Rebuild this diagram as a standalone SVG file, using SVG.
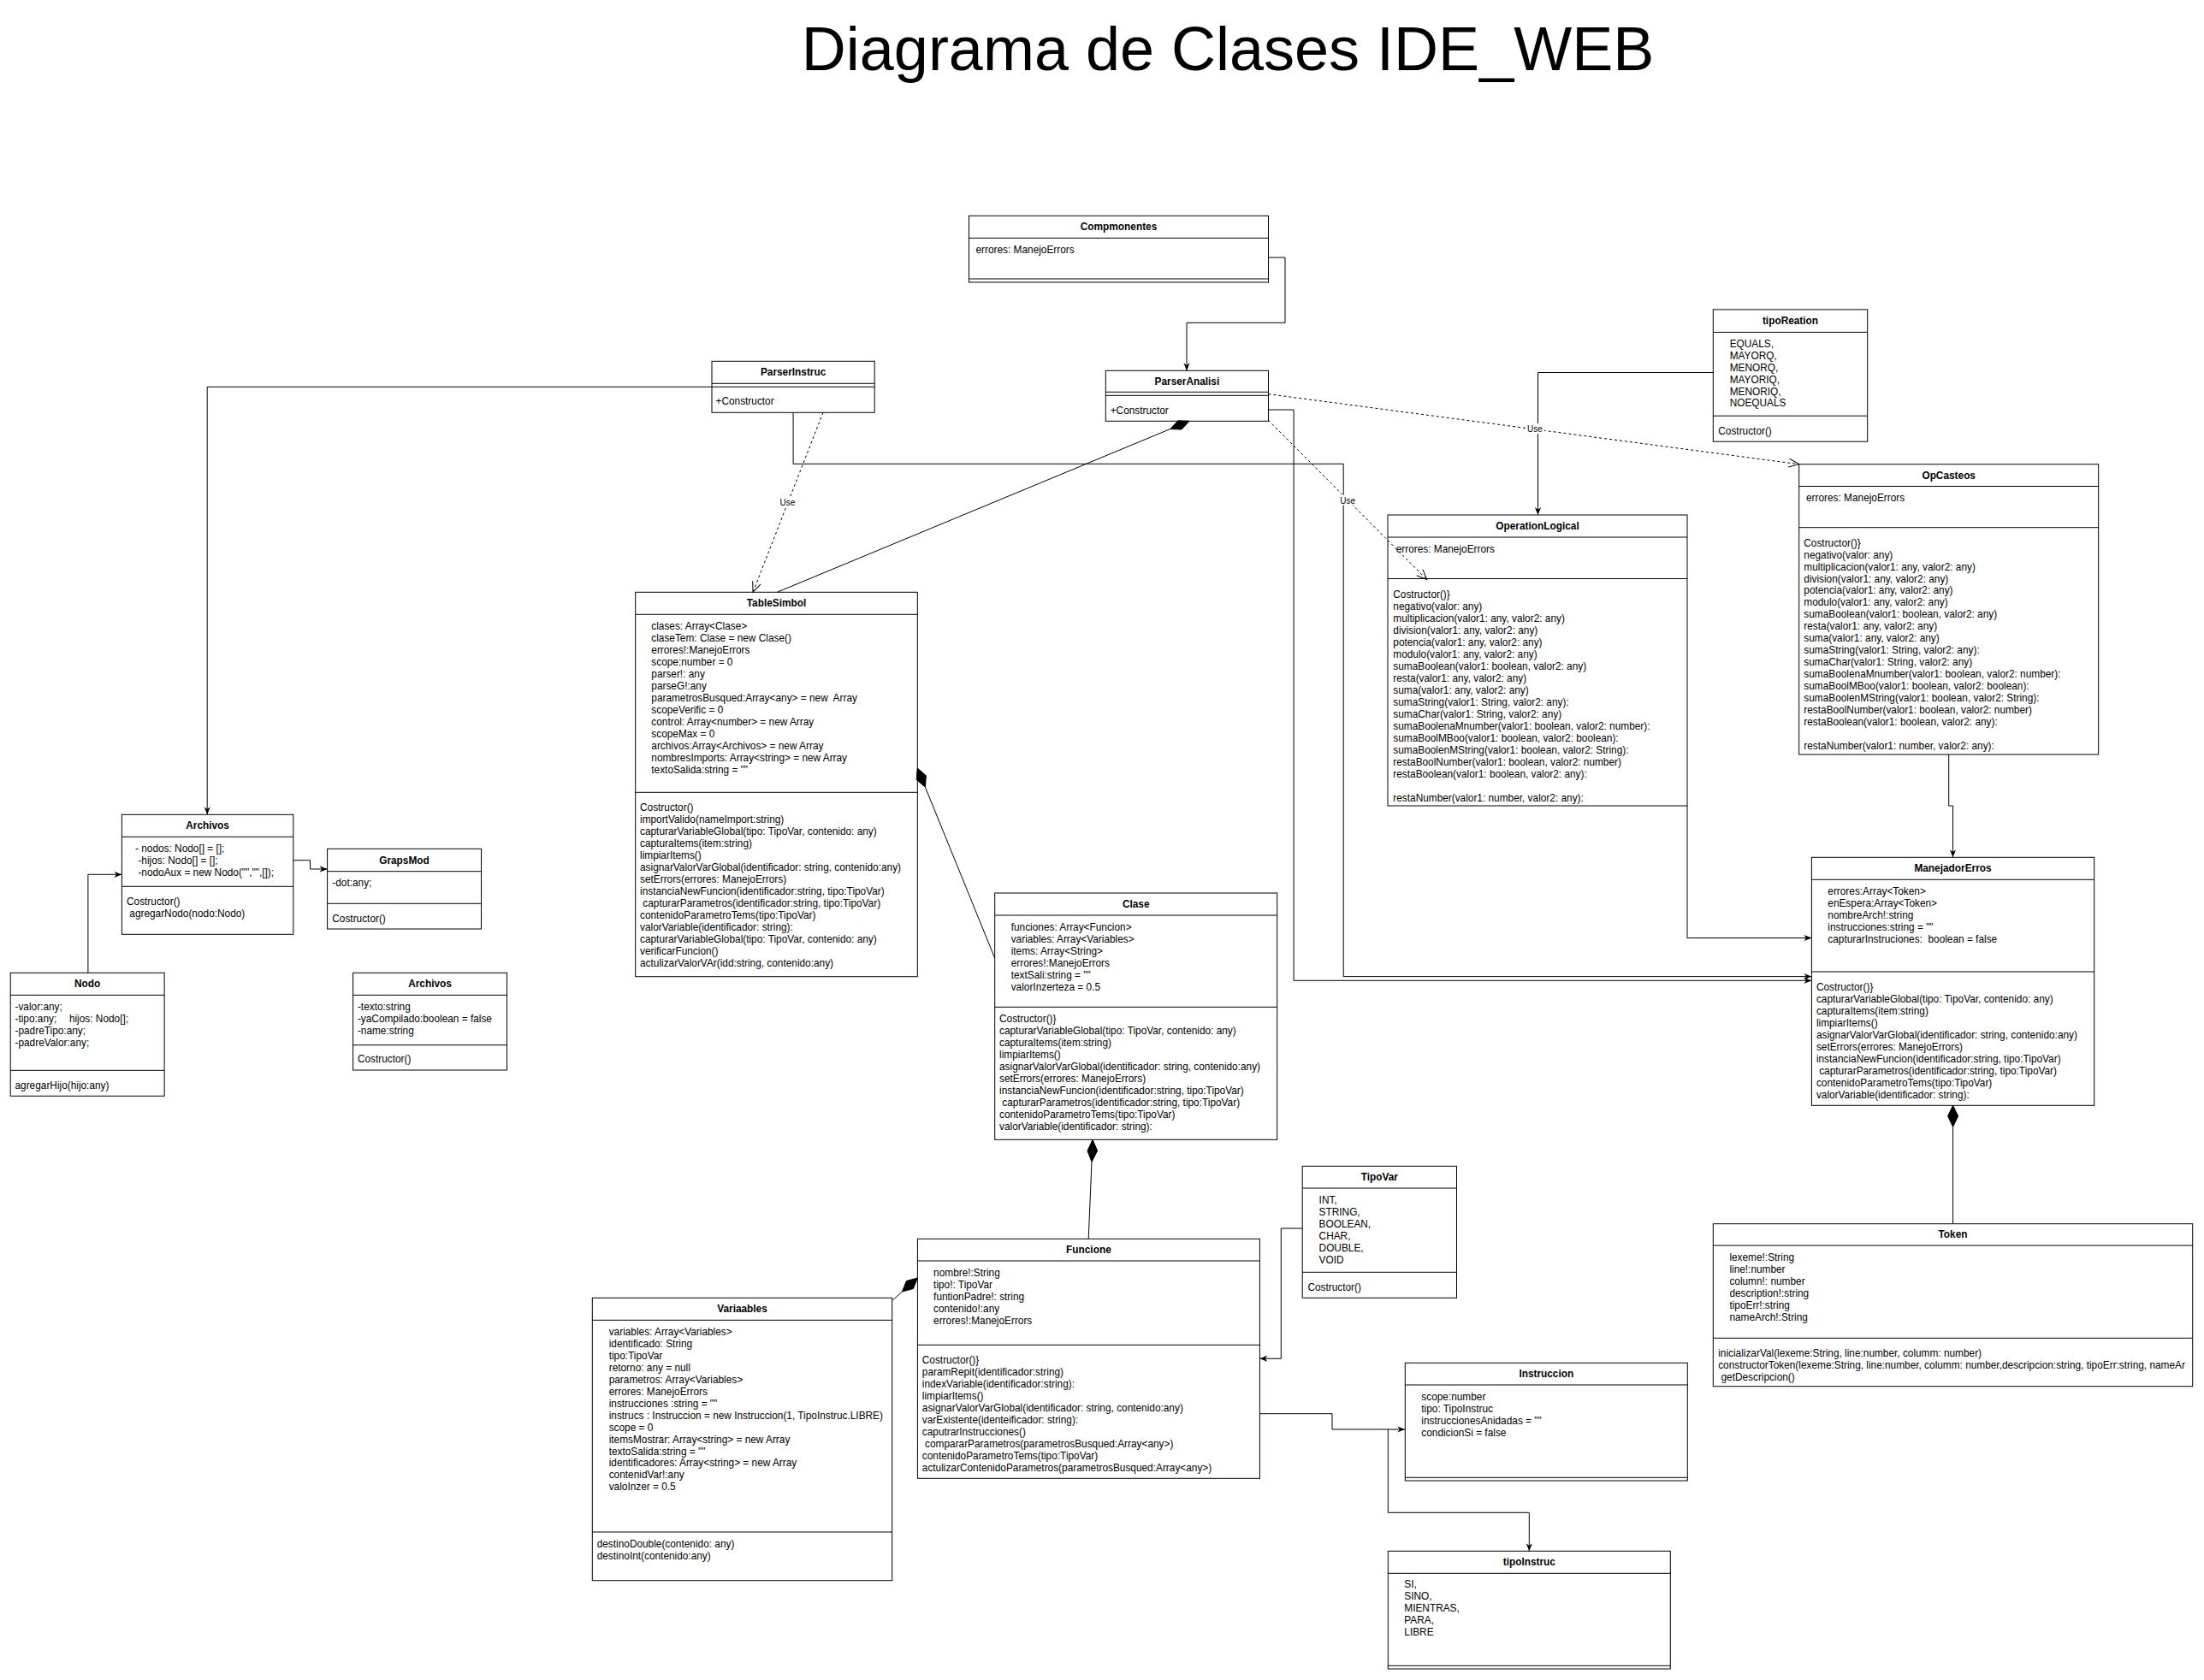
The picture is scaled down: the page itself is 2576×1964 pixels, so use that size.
<svg xmlns="http://www.w3.org/2000/svg" width="2576" height="1964" viewBox="0 0 2576 1964">
<style>
.box{fill:#fff;stroke:#000;stroke-width:1}
.sep{stroke:#000;stroke-width:1;fill:none}
.t{font-family:"Liberation Sans",Arial,Helvetica,sans-serif;font-size:11.85px;fill:#000;white-space:pre}
.h{font-weight:bold;text-anchor:middle}
.c{fill:none;stroke:#000;stroke-width:1}
.d{stroke-dasharray:3 3}
.lbl{font-family:"Liberation Sans",Arial,sans-serif;font-size:10px;fill:#000;text-anchor:middle}
.dia{fill:#000;stroke:#000;stroke-width:1}
.title{font-family:"Liberation Sans",Arial,Helvetica,sans-serif;font-size:72px;fill:#000;text-anchor:middle}
</style>
<defs>
<marker id="a" viewBox="0 0 10 10" refX="10" refY="5" markerWidth="9" markerHeight="9" orient="auto" markerUnits="userSpaceOnUse"><path d="M0,1 L10,5 L0,9 L3,5 z" fill="#000"/></marker>
<marker id="o" viewBox="0 0 14 12" refX="13" refY="6" markerWidth="14" markerHeight="12" orient="auto" markerUnits="userSpaceOnUse"><path d="M1,1 L13,6 L1,11" fill="none" stroke="#000"/></marker>
<clipPath id="tokclip"><rect x="2002.3" y="1430.7" width="560.4" height="190"/></clipPath>
</defs>
<rect width="2576" height="1964" fill="#fff"/>
<text class="title" x="1435" y="82">Diagrama de Clases IDE_WEB</text>

<g id="Compmonentes">
<rect class="box" x="1132.5" y="252.3" width="350" height="77.7"/>
<path class="sep" d="M1132.5,278.3 H1482.5 M1132.5,326 H1482.5"/>
<text class="t h" x="1307.5" y="269.3">Compmonentes</text>
<text class="t" x="1140.5" y="295.7">errores: ManejoErrors</text>
</g>

<g id="ParserInstruc">
<rect class="box" x="832" y="422.3" width="190.2" height="60"/>
<path class="sep" d="M832,448.3 H1022.2 M832,452.3 H1022.2"/>
<text class="t h" x="927.1" y="439.3">ParserInstruc</text>
<text class="t" x="836.5" y="473">+Constructor</text>
</g>

<g id="ParserAnalisi">
<rect class="box" x="1292.3" y="433.3" width="190.2" height="59"/>
<path class="sep" d="M1292.3,458.3 H1482.5 M1292.3,462.3 H1482.5"/>
<text class="t h" x="1387.4" y="450">ParserAnalisi</text>
<text class="t" x="1297.7" y="484">+Constructor</text>
</g>

<g id="tipoReation">
<rect class="box" x="2002.3" y="361.9" width="180.4" height="154.3"/>
<path class="sep" d="M2002.3,388.4 H2182.7 M2002.3,486.2 H2182.7"/>
<text class="t h" x="2092.5" y="379">tipoReation</text>
<text class="t"><tspan x="2021.7" y="406.2">EQUALS,</tspan><tspan x="2021.7" dy="13.85">MAYORQ,</tspan><tspan x="2021.7" dy="13.85">MENORQ,</tspan><tspan x="2021.7" dy="13.85">MAYORIQ,</tspan><tspan x="2021.7" dy="13.85">MENORIQ,</tspan><tspan x="2021.7" dy="13.85">NOEQUALS</tspan></text>
<text class="t" x="2008.3" y="507.8">Costructor()</text>
</g>

<g id="OpCasteos">
<rect class="box" x="2102.7" y="542.7" width="350" height="339.3"/>
<path class="sep" d="M2102.7,568.5 H2452.7 M2102.7,616.7 H2452.7"/>
<text class="t h" x="2277.7" y="559.6">OpCasteos</text>
<text class="t" x="2111" y="585.6">errores: ManejoErrors</text>
<text class="t"><tspan x="2108.3" y="638.7">Costructor()}</tspan><tspan x="2108.3" dy="13.94">negativo(valor: any)</tspan><tspan x="2108.3" dy="13.94">multiplicacion(valor1: any, valor2: any)</tspan><tspan x="2108.3" dy="13.94">division(valor1: any, valor2: any)</tspan><tspan x="2108.3" dy="13.94">potencia(valor1: any, valor2: any)</tspan><tspan x="2108.3" dy="13.94">modulo(valor1: any, valor2: any)</tspan><tspan x="2108.3" dy="13.94">sumaBoolean(valor1: boolean, valor2: any)</tspan><tspan x="2108.3" dy="13.94">resta(valor1: any, valor2: any)</tspan><tspan x="2108.3" dy="13.94">suma(valor1: any, valor2: any)</tspan><tspan x="2108.3" dy="13.94">sumaString(valor1: String, valor2: any):</tspan><tspan x="2108.3" dy="13.94">sumaChar(valor1: String, valor2: any)</tspan><tspan x="2108.3" dy="13.94">sumaBoolenaMnumber(valor1: boolean, valor2: number):</tspan><tspan x="2108.3" dy="13.94">sumaBoolMBoo(valor1: boolean, valor2: boolean):</tspan><tspan x="2108.3" dy="13.94">sumaBoolenMString(valor1: boolean, valor2: String):</tspan><tspan x="2108.3" dy="13.94">restaBoolNumber(valor1: boolean, valor2: number)</tspan><tspan x="2108.3" dy="13.94">restaBoolean(valor1: boolean, valor2: any):</tspan><tspan x="2108.3" dy="27.88">restaNumber(valor1: number, valor2: any):</tspan></text>
</g>

<g id="OperationLogical">
<rect class="box" x="1622" y="602" width="350" height="340"/>
<path class="sep" d="M1622,628 H1972 M1622,676.5 H1972"/>
<text class="t h" x="1797" y="619">OperationLogical</text>
<text class="t" x="1631.7" y="646">errores: ManejoErrors</text>
<text class="t"><tspan x="1628.3" y="699">Costructor()}</tspan><tspan x="1628.3" dy="14">negativo(valor: any)</tspan><tspan x="1628.3" dy="14">multiplicacion(valor1: any, valor2: any)</tspan><tspan x="1628.3" dy="14">division(valor1: any, valor2: any)</tspan><tspan x="1628.3" dy="14">potencia(valor1: any, valor2: any)</tspan><tspan x="1628.3" dy="14">modulo(valor1: any, valor2: any)</tspan><tspan x="1628.3" dy="14">sumaBoolean(valor1: boolean, valor2: any)</tspan><tspan x="1628.3" dy="14">resta(valor1: any, valor2: any)</tspan><tspan x="1628.3" dy="14">suma(valor1: any, valor2: any)</tspan><tspan x="1628.3" dy="14">sumaString(valor1: String, valor2: any):</tspan><tspan x="1628.3" dy="14">sumaChar(valor1: String, valor2: any)</tspan><tspan x="1628.3" dy="14">sumaBoolenaMnumber(valor1: boolean, valor2: number):</tspan><tspan x="1628.3" dy="14">sumaBoolMBoo(valor1: boolean, valor2: boolean):</tspan><tspan x="1628.3" dy="14">sumaBoolenMString(valor1: boolean, valor2: String):</tspan><tspan x="1628.3" dy="14">restaBoolNumber(valor1: boolean, valor2: number)</tspan><tspan x="1628.3" dy="14">restaBoolean(valor1: boolean, valor2: any):</tspan><tspan x="1628.3" dy="28">restaNumber(valor1: number, valor2: any):</tspan></text>
</g>

<g id="TableSimbol">
<rect class="box" x="742.7" y="692.3" width="329.6" height="449.4"/>
<path class="sep" d="M742.7,718.3 H1072.3 M742.7,926.3 H1072.3"/>
<text class="t h" x="907.5" y="709.3">TableSimbol</text>
<text class="t"><tspan x="761.3" y="735.7">clases: Array&lt;Clase&gt;</tspan><tspan x="761.3" dy="14">claseTem: Clase = new Clase()</tspan><tspan x="761.3" dy="14">errores!:ManejoErrors</tspan><tspan x="761.3" dy="14">scope:number = 0</tspan><tspan x="761.3" dy="14">parser!: any</tspan><tspan x="761.3" dy="14">parseG!:any</tspan><tspan x="761.3" dy="14">parametrosBusqued:Array&lt;any&gt; = new  Array</tspan><tspan x="761.3" dy="14">scopeVerific = 0</tspan><tspan x="761.3" dy="14">control: Array&lt;number&gt; = new Array</tspan><tspan x="761.3" dy="14">scopeMax = 0</tspan><tspan x="761.3" dy="14">archivos:Array&lt;Archivos&gt; = new Array</tspan><tspan x="761.3" dy="14">nombresImports: Array&lt;string&gt; = new Array</tspan><tspan x="761.3" dy="14">textoSalida:string = ""</tspan></text>
<text class="t"><tspan x="748" y="947.7">Costructor()</tspan><tspan x="748" dy="14">importValido(nameImport:string)</tspan><tspan x="748" dy="14">capturarVariableGlobal(tipo: TipoVar, contenido: any)</tspan><tspan x="748" dy="14">capturaItems(item:string)</tspan><tspan x="748" dy="14">limpiarItems()</tspan><tspan x="748" dy="14">asignarValorVarGlobal(identificador: string, contenido:any)</tspan><tspan x="748" dy="14">setErrors(errores: ManejoErrors)</tspan><tspan x="748" dy="14">instanciaNewFuncion(identificador:string, tipo:TipoVar)</tspan><tspan x="748" dy="14"> capturarParametros(identificador:string, tipo:TipoVar)</tspan><tspan x="748" dy="14">contenidoParametroTems(tipo:TipoVar)</tspan><tspan x="748" dy="14">valorVariable(identificador: string):</tspan><tspan x="748" dy="14">capturarVariableGlobal(tipo: TipoVar, contenido: any)</tspan><tspan x="748" dy="14">verificarFuncion()</tspan><tspan x="748" dy="14">actulizarValorVAr(idd:string, contenido:any)</tspan></text>
</g>

<g id="Clase">
<rect class="box" x="1162.7" y="1044" width="330" height="288.3"/>
<path class="sep" d="M1162.7,1070 H1492.7 M1162.7,1177.3 H1492.7"/>
<text class="t h" x="1327.7" y="1061">Clase</text>
<text class="t"><tspan x="1181.7" y="1088">funciones: Array&lt;Funcion&gt;</tspan><tspan x="1181.7" dy="14">variables: Array&lt;Variables&gt;</tspan><tspan x="1181.7" dy="14">items: Array&lt;String&gt;</tspan><tspan x="1181.7" dy="14">errores!:ManejoErrors</tspan><tspan x="1181.7" dy="14">textSali:string = ""</tspan><tspan x="1181.7" dy="14">valorInzerteza = 0.5</tspan></text>
<text class="t"><tspan x="1168" y="1195">Costructor()}</tspan><tspan x="1168" dy="14">capturarVariableGlobal(tipo: TipoVar, contenido: any)</tspan><tspan x="1168" dy="14">capturaItems(item:string)</tspan><tspan x="1168" dy="14">limpiarItems()</tspan><tspan x="1168" dy="14">asignarValorVarGlobal(identificador: string, contenido:any)</tspan><tspan x="1168" dy="14">setErrors(errores: ManejoErrors)</tspan><tspan x="1168" dy="14">instanciaNewFuncion(identificador:string, tipo:TipoVar)</tspan><tspan x="1168" dy="14"> capturarParametros(identificador:string, tipo:TipoVar)</tspan><tspan x="1168" dy="14">contenidoParametroTems(tipo:TipoVar)</tspan><tspan x="1168" dy="14">valorVariable(identificador: string):</tspan></text>
</g>

<g id="ManejadorErros">
<rect class="box" x="2117.4" y="1002.3" width="330.3" height="290"/>
<path class="sep" d="M2117.4,1028.3 H2447.7 M2117.4,1136 H2447.7"/>
<text class="t h" x="2282.5" y="1019.3">ManejadorErros</text>
<text class="t"><tspan x="2136.3" y="1046.3">errores:Array&lt;Token&gt;</tspan><tspan x="2136.3" dy="14">enEspera:Array&lt;Token&gt;</tspan><tspan x="2136.3" dy="14">nombreArch!:string</tspan><tspan x="2136.3" dy="14">instrucciones:string = ""</tspan><tspan x="2136.3" dy="14">capturarInstruciones:  boolean = false</tspan></text>
<text class="t"><tspan x="2122.9" y="1158">Costructor()}</tspan><tspan x="2122.9" dy="14">capturarVariableGlobal(tipo: TipoVar, contenido: any)</tspan><tspan x="2122.9" dy="14">capturaItems(item:string)</tspan><tspan x="2122.9" dy="14">limpiarItems()</tspan><tspan x="2122.9" dy="14">asignarValorVarGlobal(identificador: string, contenido:any)</tspan><tspan x="2122.9" dy="14">setErrors(errores: ManejoErrors)</tspan><tspan x="2122.9" dy="14">instanciaNewFuncion(identificador:string, tipo:TipoVar)</tspan><tspan x="2122.9" dy="14"> capturarParametros(identificador:string, tipo:TipoVar)</tspan><tspan x="2122.9" dy="14">contenidoParametroTems(tipo:TipoVar)</tspan><tspan x="2122.9" dy="14">valorVariable(identificador: string):</tspan></text>
</g>

<g id="Token">
<rect class="box" x="2002.3" y="1430.7" width="560.4" height="190"/>
<path class="sep" d="M2002.3,1456 H2562.7 M2002.3,1564.3 H2562.7"/>
<text class="t h" x="2282.5" y="1447.4">Token</text>
<text class="t"><tspan x="2021.4" y="1474">lexeme!:String</tspan><tspan x="2021.4" dy="14">line!:number</tspan><tspan x="2021.4" dy="14">column!: number</tspan><tspan x="2021.4" dy="14">description!:string</tspan><tspan x="2021.4" dy="14">tipoErr!:string</tspan><tspan x="2021.4" dy="14">nameArch!:String</tspan></text>
<text class="t" clip-path="url(#tokclip)"><tspan x="2008.2" y="1586">inicializarVal(lexeme:String, line:number, columm: number)</tspan><tspan x="2008.2" dy="14">constructorToken(lexeme:String, line:number, columm: number,descripcion:string, tipoErr:string, nameAr</tspan><tspan x="2008.2" dy="14"> getDescripcion()</tspan></text>
</g>

<g id="Funcione">
<rect class="box" x="1072.4" y="1448.3" width="400" height="280"/>
<path class="sep" d="M1072.4,1474 H1472.4 M1072.4,1572.3 H1472.4"/>
<text class="t h" x="1272.4" y="1465">Funcione</text>
<text class="t"><tspan x="1091.1" y="1491.7">nombre!:String</tspan><tspan x="1091.1" dy="14">tipo!: TipoVar</tspan><tspan x="1091.1" dy="14">funtionPadre!: string</tspan><tspan x="1091.1" dy="14">contenido!:any</tspan><tspan x="1091.1" dy="14">errores!:ManejoErrors</tspan></text>
<text class="t"><tspan x="1077.8" y="1594">Costructor()}</tspan><tspan x="1077.8" dy="14">paramRepit(identificador:string)</tspan><tspan x="1077.8" dy="14">indexVariable(identificador:string):</tspan><tspan x="1077.8" dy="14">limpiarItems()</tspan><tspan x="1077.8" dy="14">asignarValorVarGlobal(identificador: string, contenido:any)</tspan><tspan x="1077.8" dy="14">varExistente(identeificador: string):</tspan><tspan x="1077.8" dy="14">caputrarInstrucciones()</tspan><tspan x="1077.8" dy="14"> compararParametros(parametrosBusqued:Array&lt;any&gt;)</tspan><tspan x="1077.8" dy="14">contenidoParametroTems(tipo:TipoVar)</tspan><tspan x="1077.8" dy="14">actulizarContenidoParametros(parametrosBusqued:Array&lt;any&gt;)</tspan></text>
</g>

<g id="TipoVar">
<rect class="box" x="1522.2" y="1363.3" width="180.3" height="154"/>
<path class="sep" d="M1522.2,1389 H1702.5 M1522.2,1487.3 H1702.5"/>
<text class="t h" x="1612.3" y="1380">TipoVar</text>
<text class="t"><tspan x="1541.6" y="1406.7">INT,</tspan><tspan x="1541.6" dy="14">STRING,</tspan><tspan x="1541.6" dy="14">BOOLEAN,</tspan><tspan x="1541.6" dy="14">CHAR,</tspan><tspan x="1541.6" dy="14">DOUBLE,</tspan><tspan x="1541.6" dy="14">VOID</tspan></text>
<text class="t" x="1528.4" y="1509">Costructor()</text>
</g>

<g id="Variaables">
<rect class="box" x="692.3" y="1517.3" width="350.4" height="330.4"/>
<path class="sep" d="M692.3,1543.3 H1042.7 M692.3,1791 H1042.7"/>
<text class="t h" x="867.5" y="1534.3">Variaables</text>
<text class="t"><tspan x="711.7" y="1561.3">variables: Array&lt;Variables&gt;</tspan><tspan x="711.7" dy="13.92">identificado: String</tspan><tspan x="711.7" dy="13.92">tipo:TipoVar</tspan><tspan x="711.7" dy="13.92">retorno: any = null</tspan><tspan x="711.7" dy="13.92">parametros: Array&lt;Variables&gt;</tspan><tspan x="711.7" dy="13.92">errores: ManejoErrors</tspan><tspan x="711.7" dy="13.92">instrucciones :string = ""</tspan><tspan x="711.7" dy="13.92">instrucs : Instruccion = new Instruccion(1, TipoInstruc.LIBRE)</tspan><tspan x="711.7" dy="13.92">scope = 0</tspan><tspan x="711.7" dy="13.92">itemsMostrar: Array&lt;string&gt; = new Array</tspan><tspan x="711.7" dy="13.92">textoSalida:string = ""</tspan><tspan x="711.7" dy="13.92">identificadores: Array&lt;string&gt; = new Array</tspan><tspan x="711.7" dy="13.92">contenidVar!:any</tspan><tspan x="711.7" dy="13.92">valoInzer = 0.5</tspan></text>
<text class="t"><tspan x="697.7" y="1809">destinoDouble(contenido: any)</tspan><tspan x="697.7" dy="14">destinoInt(contenido:any)</tspan></text>
</g>

<g id="Instruccion">
<rect class="box" x="1642.3" y="1593.3" width="330" height="137.7"/>
<path class="sep" d="M1642.3,1619 H1972.3 M1642.3,1727.3 H1972.3"/>
<text class="t h" x="1807.3" y="1610">Instruccion</text>
<text class="t"><tspan x="1661.3" y="1636.7">scope:number</tspan><tspan x="1661.3" dy="14">tipo: TipoInstruc</tspan><tspan x="1661.3" dy="14">instruccionesAnidadas = ""</tspan><tspan x="1661.3" dy="14">condicionSi = false</tspan></text>
</g>

<g id="tipoInstruc">
<rect class="box" x="1622.3" y="1813.3" width="330" height="137.7"/>
<path class="sep" d="M1622.3,1839.3 H1952.3 M1622.3,1947.3 H1952.3"/>
<text class="t h" x="1787.3" y="1830.3">tipoInstruc</text>
<text class="t"><tspan x="1641.3" y="1856.3">SI,</tspan><tspan x="1641.3" dy="14">SINO,</tspan><tspan x="1641.3" dy="14">MIENTRAS,</tspan><tspan x="1641.3" dy="14">PARA,</tspan><tspan x="1641.3" dy="14">LIBRE</tspan></text>
</g>

<g id="Archivos">
<rect class="box" x="142.4" y="952.3" width="200.4" height="140"/>
<path class="sep" d="M142.4,978.3 H342.8 M142.4,1036.3 H342.8"/>
<text class="t h" x="242.6" y="969.3">Archivos</text>
<text class="t"><tspan x="158" y="996.3">- nodos: Nodo[] = [];</tspan><tspan x="161.4" dy="14">-hijos: Nodo[] = [];</tspan><tspan x="161.4" dy="14">-nodoAux = new Nodo("","",[]);</tspan></text>
<text class="t"><tspan x="148" y="1058">Costructor()</tspan><tspan x="148" dy="14"> agregarNodo(nodo:Nodo)</tspan></text>
</g>

<g id="GrapsMod">
<rect class="box" x="382.6" y="992.3" width="179.9" height="93.7"/>
<path class="sep" d="M382.6,1018.7 H562.5 M382.6,1056.3 H562.5"/>
<text class="t h" x="472.5" y="1009.5">GrapsMod</text>
<text class="t" x="388.3" y="1036.3">-dot:any;</text>
<text class="t" x="388.3" y="1077.7">Costructor()</text>
</g>

<g id="Nodo">
<rect class="box" x="12.2" y="1137.3" width="179.9" height="144"/>
<path class="sep" d="M12.2,1163.3 H192.1 M12.2,1251.3 H192.1"/>
<text class="t h" x="102.2" y="1154.3">Nodo</text>
<text class="t"><tspan x="17.5" y="1181.3">-valor:any;</tspan><tspan x="17.5" dy="14">-tipo:any;</tspan><tspan x="80.9">hijos: Nodo[];</tspan><tspan x="17.5" dy="14">-padreTipo:any;</tspan><tspan x="17.5" dy="14">-padreValor:any;</tspan></text>
<text class="t" x="17.5" y="1273">agregarHijo(hijo:any)</text>
</g>

<g id="Archivos2">
<rect class="box" x="412.6" y="1137.3" width="179.9" height="113.7"/>
<path class="sep" d="M412.6,1163.3 H592.5 M412.6,1221.7 H592.5"/>
<text class="t h" x="502.5" y="1154.3">Archivos</text>
<text class="t"><tspan x="417.9" y="1181">-texto:string</tspan><tspan x="417.9" dy="14">-yaCompilado:boolean = false</tspan><tspan x="417.9" dy="14">-name:string</tspan></text>
<text class="t" x="417.9" y="1242">Costructor()</text>
</g>

<g id="connectors">
<path class="c" d="M832,452.3 H242.2 V952.3" marker-end="url(#a)"/>
<path class="c" d="M102.9,1137.3 V1022.3 H142.4" marker-end="url(#a)"/>
<path class="c" d="M342.8,1005.7 H362.5 V1016 H382.6" marker-end="url(#a)"/>
<path class="c" d="M1482.5,301 H1502 V377.3 H1387 V433.3" marker-end="url(#a)"/>
<path class="c" d="M927.1,482.3 V542.3 H1570.2 V1141.6 H2117.4" marker-end="url(#a)"/>
<path class="c" d="M1482.5,479 H1512.1 V1146.3 H2117.4" marker-end="url(#a)"/>
<path class="c" d="M1972,942 V1096.5 H2117.4" marker-end="url(#a)"/>
<path class="c" d="M2002.3,435.5 H1797.5 V602" marker-end="url(#a)"/>
<path class="c" d="M2277.7,882 V942 H2282.5 V1002.3" marker-end="url(#a)"/>
<path class="c" d="M1522.2,1436 H1497.3 V1588.3 H1472.4" marker-end="url(#a)"/>
<path class="c" d="M1472.4,1652.7 H1557 V1671 H1642.3" marker-end="url(#a)"/>
<path class="c" d="M1622.3,1671 V1768.3 H1787.3 V1813.3" marker-end="url(#a)"/>
<path class="c d" d="M962,482.3 L880,692.3" marker-end="url(#o)"/>
<path class="c d" d="M1482.5,460.7 L2102.7,542.7" marker-end="url(#o)"/>
<path class="c d" d="M1482.5,491.3 L1667.8,677.7" marker-end="url(#o)"/>
<rect x="910" y="581" width="21" height="12" fill="#fff"/>
<text class="lbl" x="920.5" y="591">Use</text>
<rect x="1783" y="495" width="22" height="12" fill="#fff"/>
<text class="lbl" x="1794" y="505">Use</text>
<rect x="1564" y="578.5" width="22" height="12" fill="#fff"/>
<text class="lbl" x="1575.2" y="588.5">Use</text>
<path class="c" d="M1367.8,501.5 L908.3,692.3"/>
<polygon class="dia" points="1390,492.3 1376.8,491.8 1367.8,501.5 1381,502"/>
<path class="c" d="M1081.4,920.2 L1162.7,1120"/>
<polygon class="dia" points="1072.3,898 1071.2,911.4 1081.4,920.2 1082.4,906.8"/>
<path class="c" d="M1276,1358.3 L1272.2,1448.3"/>
<polygon class="dia" points="1277,1332.3 1271,1345.3 1276,1358.3 1282.6,1345.3"/>
<path class="c" d="M2282.6,1317.3 V1430.7"/>
<polygon class="dia" points="2282.6,1292.3 2276.6,1304.8 2282.6,1317.3 2288.6,1304.8"/>
<path class="c" d="M1054.5,1510 L1043.3,1520"/>
<polygon class="dia" points="1072.4,1494 1059.4,1497.5 1054.5,1510 1067.4,1506.5"/>
</g>
</svg>
